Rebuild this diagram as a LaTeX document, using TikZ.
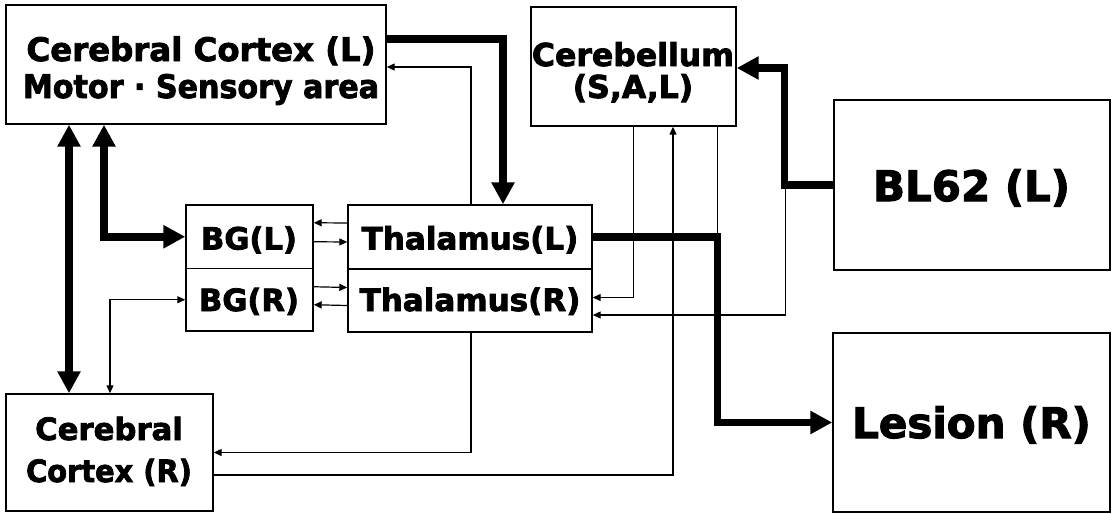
\documentclass[tikz,border=0pt]{standalone}
\usepackage{fontspec}
\setmainfont{DejaVu Sans}[BoldFeatures={FakeBold=2.5}]
\usetikzlibrary{arrows.meta}
\tikzset{
  bigtip/.tip={Triangle[length=22pt,width=22pt]},
  smalltip/.tip={Triangle[length=8pt,width=7pt]},
  box/.style={draw, line width=1.4pt, inner sep=0pt, fill=white},
  lbl/.style={anchor=base, inner sep=0pt},
  heavy/.style={line width=7.5pt},
  light/.style={line width=1.2pt},
}
\begin{document}
\begin{tikzpicture}[x=1pt,y=-1pt]
\fill[white] (0,0) rectangle (1112,514);
\useasboundingbox (0,0) rectangle (1112,514);
% boxes
\node[box, minimum width=380pt, minimum height=119pt] (CCL) at (196,64.5) {};
\node[box, minimum width=205pt, minimum height=119pt] (CB) at (633.5,66.5) {};
\node[box, minimum width=276pt, minimum height=170pt] (BL) at (972,185) {};
\node[box, minimum width=277pt, minimum height=179pt] (LES) at (971.5,422.5) {};
\node[box, minimum width=127pt, minimum height=63.5pt] (BGL) at (249.5,236.75) {};
\node[box, minimum width=127pt, minimum height=62.5pt] (BGR) at (249.5,299.75) {};
\node[box, minimum width=244pt, minimum height=64pt] (THL) at (470,237) {};
\node[box, minimum width=244pt, minimum height=63pt] (THR) at (470,300.5) {};
\node[box, minimum width=207pt, minimum height=117pt] (CCR) at (109.5,452.5) {};
% texts
\node[lbl, font=\bfseries\fontsize{32.4}{32}\selectfont] (CCLa) at (201,61) {Cerebral Cortex (L)};
\node[lbl, font=\bfseries\fontsize{32.4}{32}\selectfont] (CCLb) at (201,98) {\scalebox{0.93}[1]{Motor · Sensory area}};
\node[lbl, font=\bfseries\fontsize{31.5}{32}\selectfont] (CBa) at (633,66) {Cerebellum};
\node[lbl, font=\bfseries\fontsize{31.5}{32}\selectfont] (CBb) at (633,98) {(S,A,L)};
\node[lbl, font=\bfseries\fontsize{42}{42}\selectfont] (BLa) at (971.5,201) {BL62 (L)};
\node[lbl, font=\bfseries\fontsize{42}{42}\selectfont] (LESa) at (971.5,438) {Lesion (R)};
\node[lbl, font=\bfseries\fontsize{30.6}{32}\selectfont] (BGLa) at (249,249.5) {BG(L)};
\node[lbl, font=\bfseries\fontsize{30.6}{32}\selectfont] (BGRa) at (249,311) {BG(R)};
\node[lbl, font=\bfseries\fontsize{31}{32}\selectfont] (THLa) at (470,249.5) {Thalamus(L)};
\node[lbl, font=\bfseries\fontsize{31}{32}\selectfont] (THRa) at (470,311) {Thalamus(R)};
\node[lbl, font=\bfseries\fontsize{30.7}{32}\selectfont] (CCRa) at (109,440) {Cerebral};
\node[lbl, font=\bfseries\fontsize{30.7}{32}\selectfont] (CCRb) at (109,482) {\scalebox{0.94}[1]{Cortex (R)}};
% thick connectors
\draw[heavy, -bigtip] ([yshift=25.5pt]CCL.east) -| ([xshift=33pt]THL.north);
\draw[heavy, bigtip-bigtip] ([xshift=-127pt]CCL.south) -- ([xshift=-40.5pt]CCR.north);
\draw[heavy, bigtip-bigtip] ([xshift=-92pt]CCL.south) |- (BGL.west);
\draw[heavy, -bigtip] (THL.east) -| ([xshift=84pt]CB.south |- LES.west) -- (LES.west);
\draw[heavy, -bigtip] (BL.west) -- ([xshift=-49pt]BL.west) |- ([yshift=-1.5pt]CB.east);
% thin connectors
\draw[light, -smalltip] ([xshift=1pt]THL.north) |- ([yshift=-2.5pt]CCL.east);
\draw[light, -smalltip] ([yshift=14pt]THL.west) -- ([yshift=14pt]BGL.east);
\draw[light, -smalltip] ([yshift=-5pt]BGL.east) -- ([yshift=-5pt]THL.west);
\draw[light, -smalltip] ([yshift=13pt]BGR.east) -- ([yshift=13pt]THR.west);
\draw[light, -smalltip] ([yshift=-5pt]THR.west) -- ([yshift=-5pt]BGR.east);
\draw[light, smalltip-smalltip] ([xshift=0.5pt]CCR.north) |- (BGR.west);
\draw[light, -smalltip] ([xshift=1pt]THR.south) |- (CCR.east);
\draw[light, -smalltip] ([yshift=-22.5pt]CCR.east) -| ([xshift=39.5pt]CB.south);
\draw[light, -smalltip] (CB.south) |- ([yshift=3pt]THR.east);
\draw[light] ([xshift=84pt]CB.south) -- ([xshift=84pt]CB.south |- THL.east);
\draw[light, -smalltip] ([xshift=-48pt]BL.west) |- ([yshift=-14.5pt]THR.east);
\end{tikzpicture}
\end{document}
